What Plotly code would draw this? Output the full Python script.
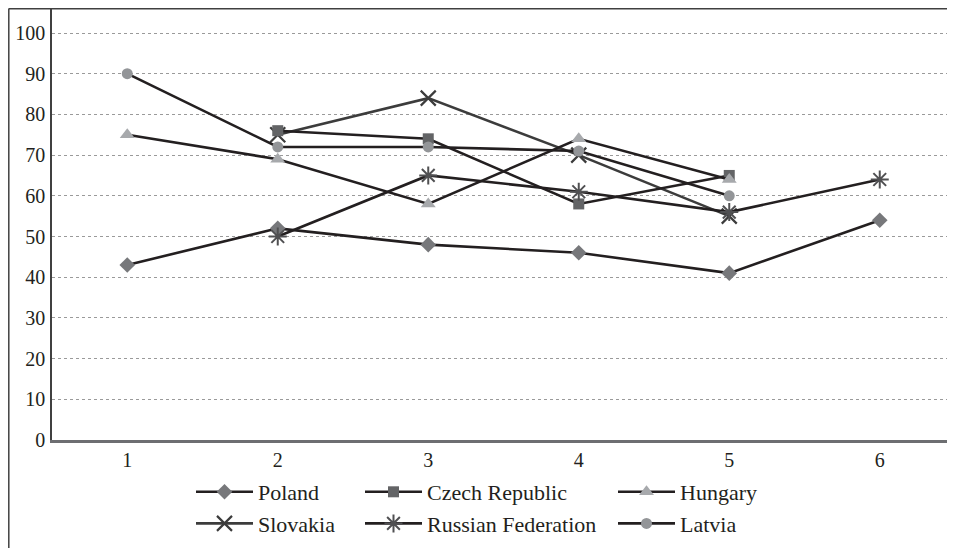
import plotly.graph_objects as go

x_vals = [1, 2, 3, 4, 5, 6]
poland = [43, 52, 48, 46, 41, 54]
czech = [None, 76, 74, 58, 65, None]
hungary = [75, 69, 58, 74, 64, None]
slovakia = [None, 75, 84, 70, 55, None]
russia = [None, 50, 65, 61, 56, 64]
latvia = [90, 72, 72, 71, 60, None]
y_ticks = [0, 10, 20, 30, 40, 50, 60, 70, 80, 90, 100]

FONT = "Liberation Serif, Times New Roman, DejaVu Serif, serif"
OFF = 8  # page body margin
W, H = 955 - OFF, 548 - OFF
L, R, T, B = 52 - OFF, 0, 1, 108
pw = W - L - R
ph = H - T - B


def px_x(p):
    # p given in reference-image pixels
    return (p - OFF - L) / pw


def px_y(p):
    return (H - B - (p - OFF)) / ph


series = [
    ("Poland", poland, "#231f20", dict(symbol="diamond", size=12, color="#77787b"), "legend", "g1"),
    ("Slovakia", slovakia, "#3c3c3c", dict(symbol="x-thin", size=15, color="#3c3c3c", line=dict(width=2.2, color="#3c3c3c")), "legend", "g2"),
    ("Czech Republic", czech, "#231f20", dict(symbol="square", size=11, color="#636466"), "legend2", "g3"),
    ("Russian Federation", russia, "#231f20", dict(symbol="asterisk", size=15, color="#505052", line=dict(width=2, color="#505052")), "legend2", "g4"),
    ("Hungary", hungary, "#231f20", dict(symbol="triangle-up", size=13, color="#a7a9ac"), "legend3", "g5"),
    ("Latvia", latvia, "#231f20", dict(symbol="circle", size=11, color="#939598"), "legend3", "g6"),
]

fig = go.Figure()
for name, vals, lc, mk, lg, grp in series:
    fig.add_trace(go.Scatter(
        x=x_vals, y=vals, name=name, mode="lines+markers",
        line=dict(color=lc, width=2.6), marker=mk,
        legend=lg, legendgroup=grp, connectgaps=False,
    ))

leg_common = dict(
    orientation="v", xanchor="left", yanchor="top",
    font=dict(family=FONT, size=22, color="#231f20"),
    bgcolor="rgba(0,0,0,0)", tracegroupgap=0, itemsizing="trace", itemwidth=57,
)

fig.update_layout(
    width=W, height=H,
    margin=dict(l=L, r=R, t=T, b=B),
    paper_bgcolor="white", plot_bgcolor="white",
    font=dict(family=FONT, size=20, color="#231f20"),
    xaxis=dict(
        range=[0.5, 6.5], tickvals=x_vals, ticktext=[str(v) for v in x_vals],
        showgrid=False, zeroline=False, showline=True, linecolor="#6d6e71", linewidth=2.5,
        ticks="", tickfont=dict(family=FONT, size=20, color="#231f20"),
    ),
    yaxis=dict(
        range=[0, ph / 4.07], tickvals=y_ticks,
        showgrid=True, gridcolor="#9a9a9a", gridwidth=1, griddash="dot",
        zeroline=False, showline=True, linecolor="#404040", linewidth=1.5,
        ticks="", ticklabelstandoff=1, tickfont=dict(family=FONT, size=20, color="#231f20"),
    ),
    legend=dict(x=px_x(191), y=px_y(471), **leg_common),
    legend2=dict(x=px_x(360), y=px_y(471), **leg_common),
    legend3=dict(x=px_x(613), y=px_y(471), **leg_common),
    shapes=[
        dict(type="line", xref="paper", yref="paper", x0=px_x(8.8), x1=1.05, y0=px_y(8.6), y1=px_y(8.6),
             line=dict(color="#404040", width=2)),
        dict(type="line", xref="paper", yref="paper", x0=px_x(8.8), x1=px_x(8.8), y0=-0.4, y1=px_y(8.6),
             line=dict(color="#404040", width=1.5)),
    ],
)

fig.write_html("out.html")
